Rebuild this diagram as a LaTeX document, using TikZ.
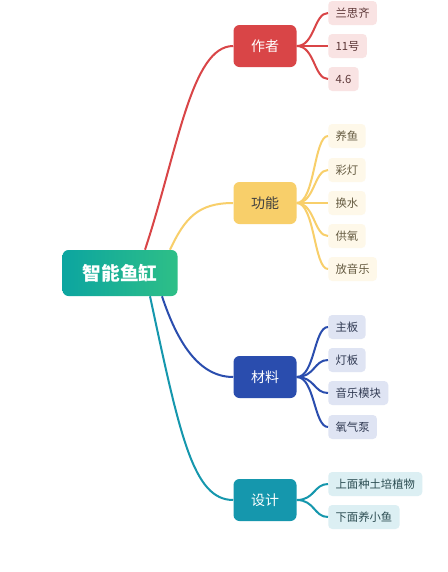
\documentclass[tikz,border=0pt]{standalone}
\usepackage{fontspec}
\setmainfont{Noto Sans CJK SC}
\usetikzlibrary{calc}
\definecolor{fishl}{HTML}{0CA5A0}
\definecolor{fishr}{HTML}{2EBF87}
\definecolor{zzred}{HTML}{D94547}
\definecolor{gnyel}{HTML}{F8CF6A}
\definecolor{clblue}{HTML}{2A4DAE}
\definecolor{sjteal}{HTML}{1597AD}

\begin{document}
\begin{tikzpicture}[x=0.75pt,y=-0.75pt,
  rootbox/.style={rounded corners=4.5pt,minimum width=86.25pt,minimum height=34.5pt,
    left color=fishl,right color=fishr,text=white,font=\fontsize{14}{16}\selectfont\bfseries},
  topicbox/.style={rounded corners=4.5pt,minimum width=47.25pt,minimum height=31.5pt,
    fill=#1,text=white,font=\fontsize{10.5}{12}\selectfont},
  leafbox/.style={rounded corners=3pt,minimum height=18pt,inner xsep=5.5pt,anchor=west,
    fill=#1!15,text=#1!30!black!85,font=\fontsize{8.5}{10}\selectfont},
  link/.style={line width=1.5pt}]
\useasboundingbox[fill=white] (0,0) rectangle (447,572);

% root and main branches
\node[rootbox] (fish) at (120,273) {智能鱼缸};
\node[topicbox=zzred] (zz) at (265,46) {作者};
\node[topicbox=gnyel,text=black!75] (gn) at (265,203) {功能};
\node[topicbox=clblue] (cl) at (265,377) {材料};
\node[topicbox=sjteal] (sj) at (265,500) {设计};

% leaves
\node[leafbox=zzred] (zz1) at (328,13) {兰思齐};
\node[leafbox=zzred] (zz2) at (328,46) {11号};
\node[leafbox=zzred] (zz3) at (328,79) {4.6};
\node[leafbox=gnyel] (gn1) at (328,136) {养鱼};
\node[leafbox=gnyel] (gn2) at (328,170) {彩灯};
\node[leafbox=gnyel] (gn3) at (328,203) {换水};
\node[leafbox=gnyel] (gn4) at (328,236) {供氧};
\node[leafbox=gnyel] (gn5) at (328,269) {放音乐};
\node[leafbox=clblue] (cl1) at (328,327) {主板};
\node[leafbox=clblue] (cl2) at (328,360) {灯板};
\node[leafbox=clblue] (cl3) at (328,393) {音乐模块};
\node[leafbox=clblue] (cl4) at (328,427) {氧气泵};
\node[leafbox=sjteal] (sj1) at (328,484) {上面种土培植物};
\node[leafbox=sjteal] (sj2) at (328,517) {下面养小鱼};

% root to branches
\draw[link,zzred] ($(fish.north)+(25,0)$) .. controls +(33,-100) and +(-42,0) .. (zz.west);
\draw[link,gnyel] ($(fish.north)+(50,0)$) .. controls +(15,-32) and +(-35,0) .. (gn.west);
\draw[link,clblue] ($(fish.south)+(42,0)$) .. controls +(15,45) and +(-35,0) .. (cl.west);
\draw[link,sjteal] ($(fish.south)+(30,0)$) .. controls +(30,140) and +(-40,0) .. (sj.west);

% branches to leaves
\foreach \l in {zz1,zz2,zz3}
  \draw[link,zzred] (zz.east) .. controls +(18,0) and +(-14,0) .. (\l.west);
\foreach \l in {gn1,gn2,gn3,gn4,gn5}
  \draw[link,gnyel] (gn.east) .. controls +(18,0) and +(-14,0) .. (\l.west);
\foreach \l in {cl1,cl2,cl3,cl4}
  \draw[link,clblue] (cl.east) .. controls +(18,0) and +(-14,0) .. (\l.west);
\foreach \l in {sj1,sj2}
  \draw[link,sjteal] (sj.east) .. controls +(18,0) and +(-14,0) .. (\l.west);
\end{tikzpicture}
\end{document}
